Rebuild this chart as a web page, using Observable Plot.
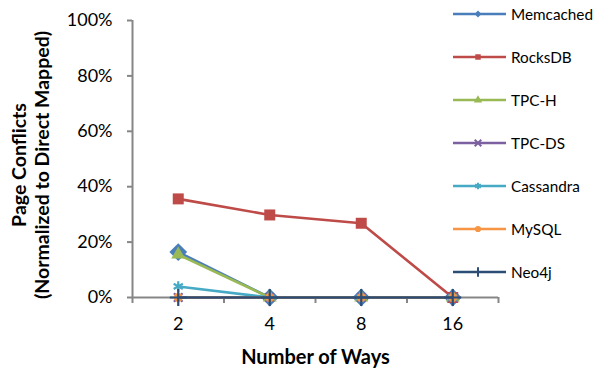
<!DOCTYPE html>
<html>
<head>
<meta charset="utf-8">
<script src="https://cdn.jsdelivr.net/npm/d3@7"></script>
<script src="https://cdn.jsdelivr.net/npm/@observablehq/plot@0.6"></script>
<style>
  body { margin: 0; background: #fff; }
  #chart { position: relative; width: 595px; height: 371px; font-family: Lato, sans-serif; }
  #chart svg.plot { position: absolute; left: 0; top: 0; }
  .legend-row { position: absolute; left: 453px; height: 14px; display: flex; align-items: center; }
  .legend-row span { margin-left: 5px; font-size: 15.3px; color: #000; white-space: nowrap; }
</style>
</head>
<body>
<div id="chart"></div>
<script>
// Categories (number of ways) and page-conflict ratios per workload
const ways = ["2", "4", "8", "16"];
const seriesNames = ["Memcached", "RocksDB", "TPC-H", "TPC-DS", "Cassandra", "MySQL", "Neo4j"];
const memcached = [0.164, 0, 0, 0];
const rocksdb   = [0.356, 0.298, 0.268, 0];
const tpch      = [0.155, 0, 0, 0];
const tpcds     = [0, 0, 0, 0];
const cassandra = [0.04, 0, 0, 0];
const mysql     = [0, 0, 0, 0];
const neo4j     = [0, 0, 0, 0];
const yTicks = [0, 0.2, 0.4, 0.6, 0.8, 1.0];

const seriesValues = [memcached, rocksdb, tpch, tpcds, cassandra, mysql, neo4j];
const lineColors   = ["#4A7EBB", "#BE4B48", "#98B954", "#7D60A0", "#46AAC5", "#F69544", "#2C4D75"];
const symbols      = ["diamond2", "square", "triangle", "times", "asterisk", "circle", "plus"];
const filled       = [true, true, true, false, false, true, false];
const markerR      = [8, 6.2, 5.2, 4, 5, 4.5, 5.5];

// Long table: one row per (series, category)
const rows = seriesNames.flatMap((name, s) =>
  ways.map((w, i) => ({series: name, s, idx: i + 1, ways: w, value: seriesValues[s][i]}))
);

const grey = "#868686";
const marks = [
  // axis lines
  Plot.ruleX([0.5], {y1: 0, y2: 1, stroke: grey, strokeWidth: 2}),
  Plot.axisY({ticks: yTicks, tickFormat: d3.format(".0%"), tickSize: 5, tickPadding: 15,
              stroke: grey, strokeWidth: 2, fill: "#000", fontSize: 18, label: null}),
  Plot.axisX({ticks: d3.range(0.5, 4.6, 1), tickSize: 6, tickFormat: () => "",
              stroke: grey, strokeWidth: 2, label: null}),
  Plot.axisX({ticks: ways.map((w, i) => i + 1), tickSize: 0, tickPadding: 20,
              tickFormat: i => ways[i - 1], fill: "#000", fontSize: 18, label: null}),
  Plot.ruleY([0], {x1: 0.5, x2: 4.5, stroke: grey, strokeWidth: 2}),
  // axis titles
  Plot.text(["Page Conflicts\n(Normalized to Direct Mapped)"], {
    frameAnchor: "left", rotate: -90, dx: -102, dy: 6, textAnchor: "middle", lineAnchor: "middle",
    fontSize: 19.5, fontWeight: "bold", lineHeight: 1.15, fill: "#000"
  }),
  Plot.text(["Number of Ways"], {
    frameAnchor: "bottom", dy: 60, textAnchor: "middle", lineAnchor: "middle",
    fontSize: 20, fontWeight: "bold", fill: "#000"
  })
];

// Each series: line, then its markers (later series drawn on top)
seriesNames.forEach((name, s) => {
  const data = rows.filter(d => d.s === s);
  marks.push(Plot.line(data, {x: "idx", y: "value", stroke: lineColors[s], strokeWidth: 2.6}));
  marks.push(Plot.dot(data, filled[s]
    ? {x: "idx", y: "value", symbol: () => symbols[s], r: markerR[s], fill: lineColors[s], stroke: "none"}
    : {x: "idx", y: "value", symbol: () => symbols[s], r: markerR[s], stroke: lineColors[s], strokeWidth: 2.2, fill: "none"}));
});

const chart = Plot.plot({
  width: 595,
  height: 371,
  marginLeft: 132,
  marginRight: 97,
  marginTop: 20,
  marginBottom: 74,
  style: {fontFamily: "Lato, sans-serif", background: "transparent", color: "#000", overflow: "visible"},
  x: {type: "linear", domain: [0.5, 4.5], axis: null},
  y: {domain: [0, 1], axis: null},
  symbol: {type: "identity"},
  marks
});
const host = document.getElementById("chart");
chart.classList.add("plot");
host.appendChild(chart);

// Legend on the right
seriesNames.forEach((name, s) => {
  const row = document.createElement("div");
  row.className = "legend-row";
  row.style.top = (14 + s * 43 - 7) + "px";
  const svg = d3.create("svg").attr("width", 53).attr("height", 14);
  svg.append("line").attr("x1", 0).attr("x2", 53).attr("y1", 7).attr("y2", 7)
    .attr("stroke", lineColors[s]).attr("stroke-width", 2.6);
  const sym = {diamond2: d3.symbolDiamond2, square: d3.symbolSquare, triangle: d3.symbolTriangle,
               times: d3.symbolTimes, asterisk: d3.symbolAsterisk, circle: d3.symbolCircle, plus: d3.symbolPlus}[symbols[s]];
  svg.append("path").attr("transform", "translate(25,7)")
    .attr("d", d3.symbol(sym, 30)())
    .attr("fill", filled[s] ? lineColors[s] : "none")
    .attr("stroke", filled[s] ? "none" : lineColors[s])
    .attr("stroke-width", 2);
  row.appendChild(svg.node());
  const label = document.createElement("span");
  label.textContent = name;
  row.appendChild(label);
  host.appendChild(row);
});
</script>
</body>
</html>
